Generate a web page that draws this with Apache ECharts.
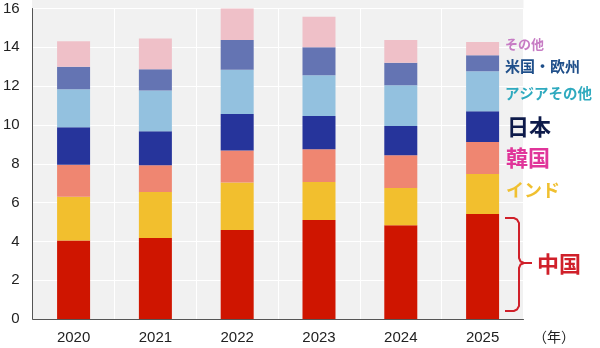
<!DOCTYPE html>
<html>
<head>
<meta charset="utf-8">
<script src="https://cdn.jsdelivr.net/npm/echarts@6/dist/echarts.min.js"></script>
<style>html,body{margin:0;padding:0;background:#fff}#c{width:600px;height:348px}</style>
</head>
<body>
<div id="c"></div>
<script>
const years = ['2020','2021','2022','2023','2024','2025'];
const china = [4.04, 4.18, 4.59, 5.10, 4.83, 5.41];
const india = [2.26, 2.37, 2.44, 1.96, 1.92, 2.06];
const korea = [1.65, 1.37, 1.65, 1.69, 1.69, 1.65];
const japan = [1.93, 1.75, 1.89, 1.71, 1.51, 1.59];
const asiaOther = [1.96, 2.10, 2.27, 2.10, 2.10, 2.06];
const usEu = [1.16, 1.10, 1.54, 1.44, 1.16, 0.82];
const other = [1.31, 1.58, 1.62, 1.58, 1.17, 0.69];
const yTicks = [0, 2, 4, 6, 8, 10, 12, 14, 16];

const seriesDefs = [
  {name:'中国', data: china, color:'#cf1500'},
  {name:'インド', data: india, color:'#f2bf2e'},
  {name:'韓国', data: korea, color:'#ef8671'},
  {name:'日本', data: japan, color:'#26349b'},
  {name:'アジアその他', data: asiaOther, color:'#93c1df'},
  {name:'米国・欧州', data: usEu, color:'#6474b3'},
  {name:'その他', data: other, color:'#efc0c8'}
];

const chart = echarts.init(document.getElementById('c'), null, {renderer:'canvas'});
const font = 'Liberation Sans, Arial, sans-serif';
const jp = '"Noto Sans CJK JP", sans-serif';
const red = '#d0202a';
chart.setOption({
  animation:false,
  backgroundColor:'#ffffff',
  grid:{left:32, right:76.5, top:8.5, bottom:29, containLabel:false},
  xAxis:{
    type:'category', data: years,
    axisLine:{show:true, lineStyle:{color:'#555', width:1}},
    axisTick:{show:false},
    axisLabel:{color:'#222', fontSize:15, fontFamily:font, margin:11},
    splitLine:{show:true, interval:0, lineStyle:{color:'#ffffff', width:1}}
  },
  yAxis:{
    type:'value', min:yTicks[0], max:yTicks[yTicks.length-1], interval:2,
    axisLine:{show:true, lineStyle:{color:'#555', width:1}},
    axisTick:{show:false},
    axisLabel:{color:'#222', fontSize:15, fontFamily:font, margin:13},
    splitLine:{show:true, lineStyle:{color:'#ffffff', width:1}}
  },
  series: seriesDefs.map(s => ({
    name:s.name, type:'bar', stack:'t', data:s.data, barWidth:33,
    itemStyle:{color:s.color}
  })),
  graphic:[
    {type:'rect', z:-10, silent:true, shape:{x:32, y:0, width:491.5, height:319}, style:{fill:'#f1f1f1'}},
    {type:'text', z:100, x:505, y:44, style:{text:'その他', fill:'#c77cc4', font:'bold 13px '+jp, verticalAlign:'middle'}},
    {type:'text', z:100, x:505, y:66, style:{text:'米国・欧州', fill:'#1f4f8a', font:'bold 15px '+jp, verticalAlign:'middle'}},
    {type:'text', z:100, x:505, y:93, style:{text:'アジアその他', fill:'#2faabf', font:'bold 14.5px '+jp, verticalAlign:'middle'}},
    {type:'text', z:100, x:507, y:127, style:{text:'日本', fill:'#0d1a4a', font:'bold 22px '+jp, verticalAlign:'middle'}},
    {type:'text', z:100, x:506, y:158, style:{text:'韓国', fill:'#e0359a', font:'bold 22px '+jp, verticalAlign:'middle'}},
    {type:'text', z:100, x:506, y:190, style:{text:'インド', fill:'#f0c030', font:'bold 18px '+jp, verticalAlign:'middle'}},
    {type:'text', z:100, x:537, y:264, style:{text:'中国', fill:red, font:'bold 22px '+jp, verticalAlign:'middle'}},
    {type:'polyline', z:100, shape:{points:[[505,218],[514,218],[517,219.5],[519,223],[519,258],[520.5,261.5],[524,263],[532,263]]}, style:{stroke:red, lineWidth:2, fill:null}},
    {type:'polyline', z:100, shape:{points:[[524,263],[520.5,264.5],[519,268],[519,306],[517,309.5],[514,311],[505,311]]}, style:{stroke:red, lineWidth:2, fill:null}},
    {type:'text', z:100, x:533, y:337, style:{text:'（年）', fill:'#222', font:'14px '+jp, verticalAlign:'middle'}}
  ]
});
</script>
</body>
</html>
